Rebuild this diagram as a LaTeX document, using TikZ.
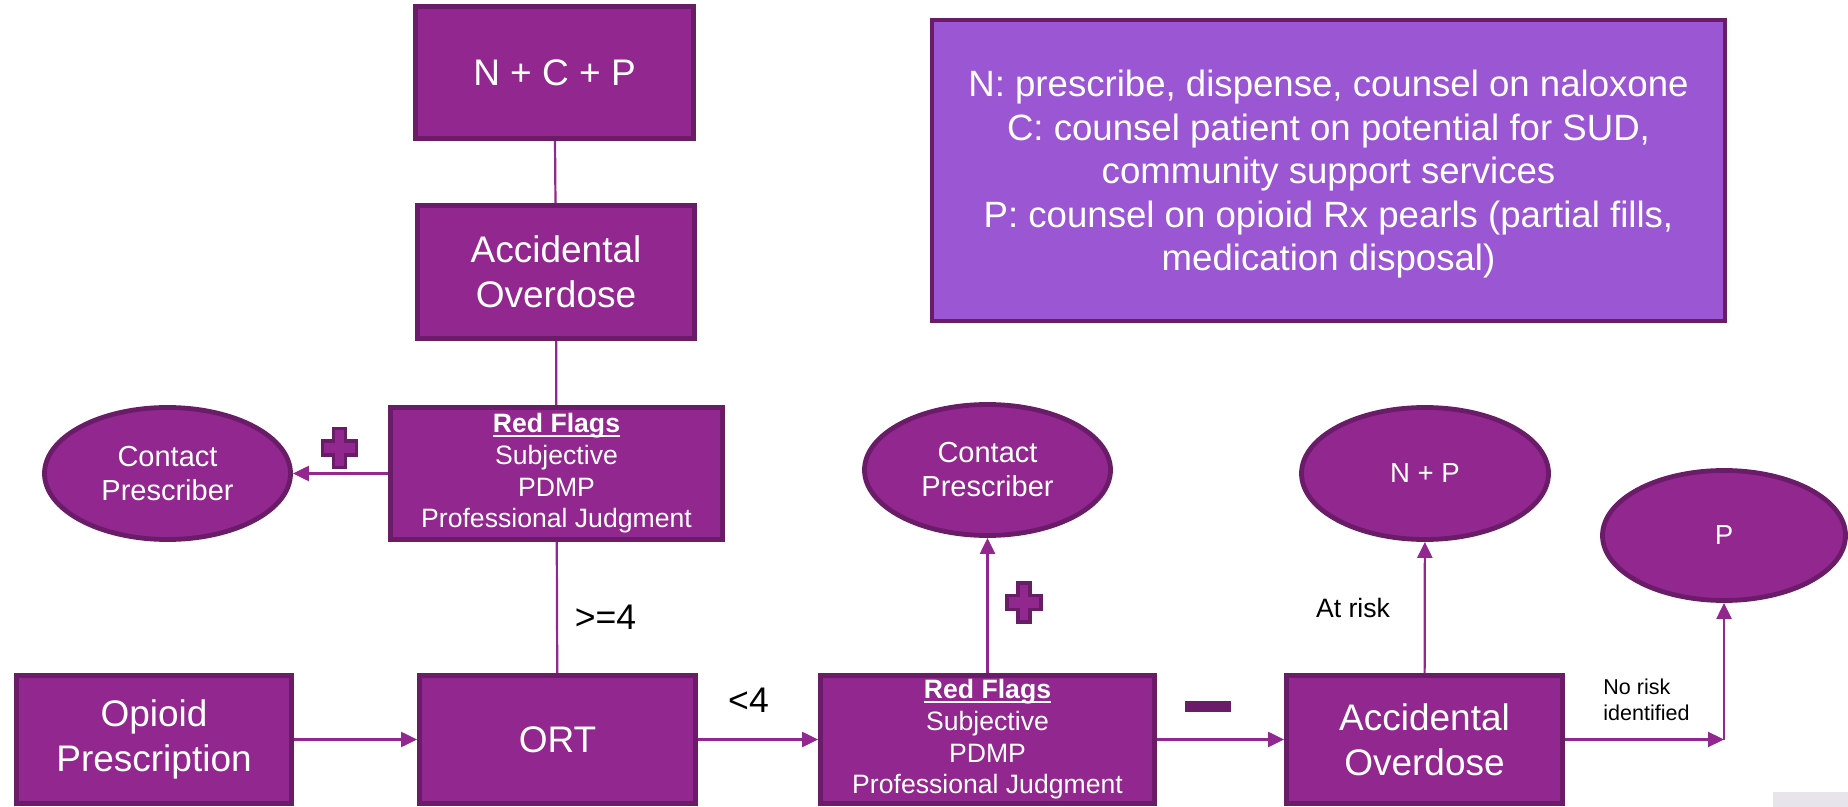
\documentclass[tikz,border=0pt]{standalone}
\usepackage{fontspec}
\setmainfont{Liberation Sans}
\usetikzlibrary{arrows.meta, shapes.geometric}

\definecolor{plum}{HTML}{92278F}
\definecolor{plumdark}{HTML}{6B1C69}
\definecolor{lilac}{HTML}{9B57D3}
\definecolor{slidegray}{HTML}{E7E5EB}

\newsavebox{\titlebox}
\newcommand{\flagtitle}[1]{\sbox{\titlebox}{\textbf{#1}}\usebox{\titlebox}\llap{\rule[-2pt]{\wd\titlebox}{0.9pt}}}

\begin{document}
\begin{tikzpicture}[
  x=0.5pt, y=-0.5pt,
  box/.style={draw=plumdark, fill=plum, line width=2.4pt, text=white,
    align=center, inner sep=0pt, font=\fontsize{18.5}{22.5}\selectfont},
  flagbox/.style={box, font=\fontsize{13.3}{15.8}\selectfont},
  bubble/.style={box, ellipse, font=\fontsize{14.5}{17}\selectfont},
  link/.style={draw=plum, line width=1.1pt},
  arrow/.style={link, -{Triangle[width=7.5pt, length=8pt]}},
  sign/.style={draw=plumdark, fill=plum, line width=1.6pt},
  tag/.style={inner sep=0pt, text=black},
]
  \useasboundingbox (0,0) rectangle (1848,807);
  \fill[slidegray] (1773,792) rectangle (1848,807);

  % upper column
  \node[box, minimum width=139pt, minimum height=66pt] (ncp) at (554.5,72.5) {N + C + P};
  \node[box, minimum width=138.5pt, minimum height=66.5pt] (ao1) at (556,272) {Accidental\\Overdose};
  \node[flagbox, minimum width=166pt, minimum height=66pt] (rf1) at (556.5,473.5)
    {\flagtitle{Red Flags}\\Subjective\\PDMP\\Professional Judgment};
  \node[bubble, minimum width=123pt, minimum height=66pt] (cp1) at (167.5,473.5) {Contact\\Prescriber};

  % bottom row
  \node[box, minimum width=137.5pt, minimum height=64pt] (op) at (154,739.5) {Opioid\\Prescription};
  \node[box, minimum width=138pt, minimum height=64pt] (ort) at (557.5,739.5) {ORT};
  \node[flagbox, minimum width=167pt, minimum height=64pt] (rf2) at (987.5,739.5)
    {\flagtitle{Red Flags}\\Subjective\\PDMP\\Professional Judgment};
  \node[box, minimum width=138pt, minimum height=64pt] (ao2) at (1424.5,739.5) {Accidental\\Overdose};

  % outcomes
  \node[bubble, minimum width=123pt, minimum height=65.5pt] (cp2) at (987.5,470) {Contact\\Prescriber};
  \node[bubble, minimum width=123.5pt, minimum height=66pt, font=\fontsize{13.8}{17}\selectfont] (np) at (1425,473.5) {N + P};
  \node[bubble, minimum width=121.5pt, minimum height=65pt, font=\fontsize{13.8}{17}\selectfont] (p) at (1724,535.5) {P};

  % legend
  \node[box, fill=lilac, line width=2pt, minimum width=396.5pt, minimum height=150.5pt,
    font=\fontsize{18.3}{21.8}\selectfont, text depth=-3pt] (legend) at (1328.5,170.5)
    {N: prescribe, dispense, counsel on naloxone\\
     C: counsel patient on potential for SUD,\\
     community support services\\
     P: counsel on opioid Rx pearls (partial fills,\\
     medication disposal)};

  % connectors
  \draw[link] (ncp) -- (ao1);
  \draw[link] (ao1) -- (rf1);
  \draw[link] (rf1) -- (ort);
  \draw[arrow] (rf1) -- (cp1);
  \draw[arrow] (op) -- (ort);
  \draw[arrow] (ort) -- (rf2);
  \draw[arrow] (rf2) -- (cp2);
  \draw[arrow] (rf2) -- (ao2);
  \draw[arrow] (ao2) -- (np);
  \coordinate (turn) at (p.south |- ao2.east);
  \draw[arrow] (ao2) -- (turn);
  \draw[arrow] (turn) -- (p);

  % labels
  \node[tag, font=\fontsize{17.8}{20}\selectfont] (ge4) at (605.5,617) {>=4};
  \node[tag, font=\fontsize{17.8}{20}\selectfont] (lt4) at (748.5,700) {<4};
  \node[tag, font=\fontsize{13.3}{16}\selectfont] (atrisk) at (1353,608) {At risk};
  \node[tag, anchor=west, align=left, font=\fontsize{10.75}{13}\selectfont] (norisk) at (1603,700)
    {No risk\\identified};

  % plus and minus signs
  \foreach \sx/\sy in {339.5/448, 1024/602.5}
    \draw[sign, shift={(\sx,\sy)}] (-6,-19.5) -- (6,-19.5) -- (6,-7) -- (17,-7) -- (17,7)
      -- (6,7) -- (6,19.5) -- (-6,19.5) -- (-6,7) -- (-17,7) -- (-17,-7) -- (-6,-7) -- cycle;
  \fill[plumdark] (1185,701) rectangle (1231,712);
\end{tikzpicture}
\end{document}
